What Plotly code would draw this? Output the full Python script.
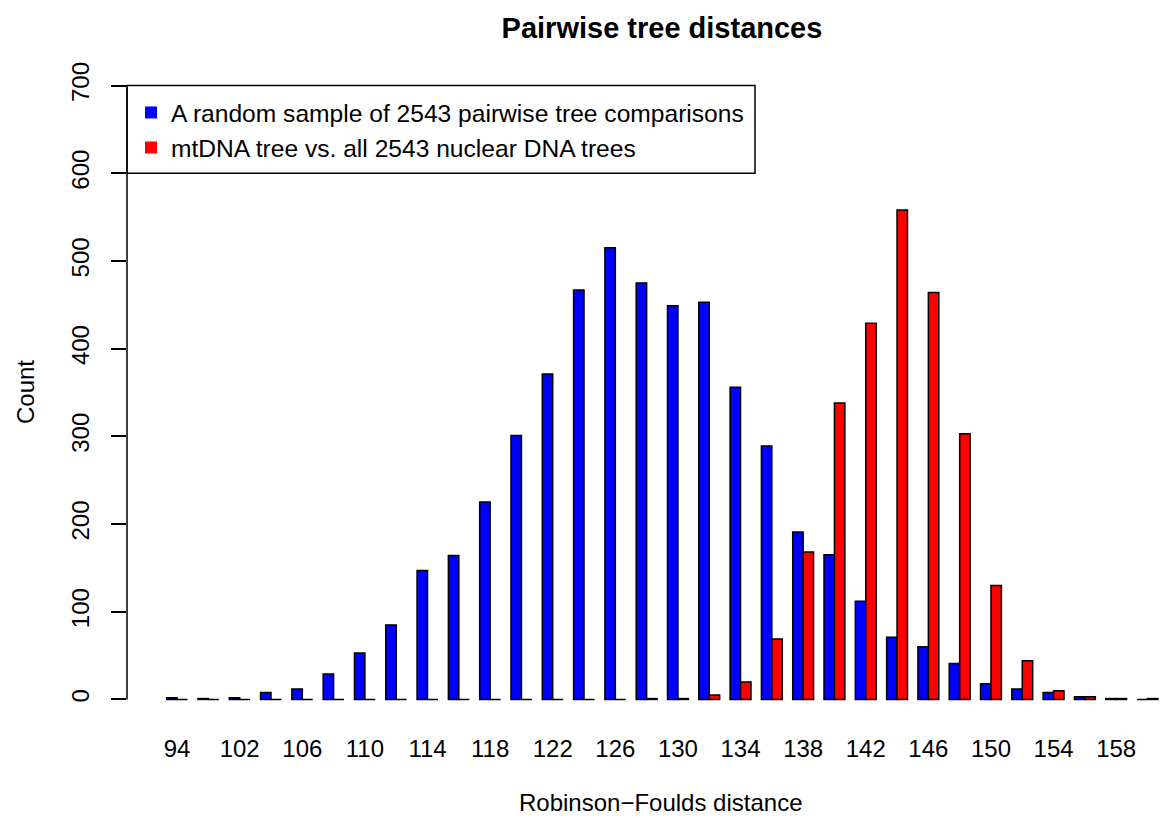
import plotly.graph_objects as go

# Robinson-Foulds distance bins (even distances present in the data)
distances = [94, 98, 102, 104, 106, 108, 110, 112, 114, 116, 118, 120, 122, 124,
             126, 128, 130, 132, 134, 136, 138, 140, 142, 144, 146, 148, 150, 152,
             154, 156, 158, 160]

# Counts per bin
random_pairs = [2, 1, 2, 8, 12, 29, 53, 85, 147, 164, 225, 301, 371, 467,
                515, 475, 449, 453, 356, 289, 191, 165, 112, 71, 60, 41, 18, 12,
                8, 3, 1, 0]
mtdna_vs_nuclear = [0, 0, 0, 0, 0, 0, 0, 0, 0, 0, 0, 0, 0, 0,
                    0, 1, 1, 5, 20, 69, 168, 338, 429, 558, 464, 303, 130, 44,
                    10, 3, 1, 1]

series_names = ["A random sample of 2543 pairwise tree comparisons",
                "mtDNA tree vs. all 2543 nuclear DNA trees"]
series_colors = ["#0000FF", "#FF0000"]

y_ticks = [0, 100, 200, 300, 400, 500, 600, 700]

cats = [str(d) for d in distances]
# every other bin gets a label, as the labels would otherwise collide
label_cats = cats[0:31:2]

FONT = "Liberation Sans, Arial, Helvetica, sans-serif"

fig = go.Figure()
for name, vals, col in zip(series_names, [random_pairs, mtdna_vs_nuclear], series_colors):
    fig.add_trace(go.Bar(
        x=cats, y=vals, name=name, showlegend=False,
        marker=dict(color=col, line=dict(color="black", width=1.5)),
    ))
    # legend swatch without outline
    fig.add_trace(go.Scatter(
        x=[None], y=[None], mode="markers", name=name,
        marker=dict(symbol="square", size=12, color=col, line=dict(width=0)),
    ))

W, H = 1160, 818
L, R, T, B = 127, 0, 61, 94
plot_w = W - L - R

fig.update_layout(
    width=W, height=H,
    margin=dict(l=L, r=R, t=T, b=B, pad=0),
    paper_bgcolor="white", plot_bgcolor="white",
    font=dict(family=FONT, size=24, color="black"),
    barmode="group", bargap=1/3, bargroupgap=0,
    title=dict(text="<b>Pairwise tree distances</b>", font=dict(size=29, family=FONT),
               x=662 / W, xref="container", xanchor="center",
               y=1 - 28 / H, yref="container", yanchor="middle"),
    xaxis=dict(type="category", categoryorder="array", categoryarray=cats,
               range=[-1.6, 31.4], showgrid=False, zeroline=False, showline=False,
               ticks="", tickvals=label_cats, ticktext=label_cats,
               tickfont=dict(size=24), ticklabelstandoff=8),
    yaxis=dict(range=[-28, 728], tickvals=y_ticks, ticktext=[str(v) for v in y_ticks],
               ticks="outside", ticklen=15, tickwidth=1.5, tickcolor="black",
               tickangle=-90, tickfont=dict(size=24), ticklabelstandoff=12,
               showgrid=False, zeroline=False, showline=False),
    legend=dict(x=(131 - L) / plot_w, y=1 - (90 - T) / (H - T - B),
                xanchor="left", yanchor="top", bgcolor="rgba(0,0,0,0)",
                borderwidth=0, font=dict(size=24.6)),
    showlegend=True,
)

# y-axis line spanning the tick range only
fig.add_shape(type="line", xref="paper", yref="y", x0=0, x1=0, y0=0, y1=700,
              line=dict(color="black", width=1.5))
# legend frame
fig.add_shape(type="rect", xref="paper", yref="y",
              x0=0, x1=(755 - L) / plot_w, y0=600, y1=700,
              line=dict(color="black", width=1.5), fillcolor="rgba(0,0,0,0)")

# axis titles
fig.add_annotation(text="Robinson\u2212Foulds distance", xref="paper", yref="paper",
                   x=(661 - L) / plot_w, y=-(802 - (H - B)) / (H - T - B),
                   xanchor="center", yanchor="middle", showarrow=False,
                   font=dict(size=24, family=FONT))
fig.add_annotation(text="Count", textangle=-90, xref="paper", yref="paper",
                   x=-(L - 25) / plot_w, y=1 - (392 - T) / (H - T - B),
                   xanchor="center", yanchor="middle", showarrow=False,
                   font=dict(size=24, family=FONT))

fig.write_html("out.html")
